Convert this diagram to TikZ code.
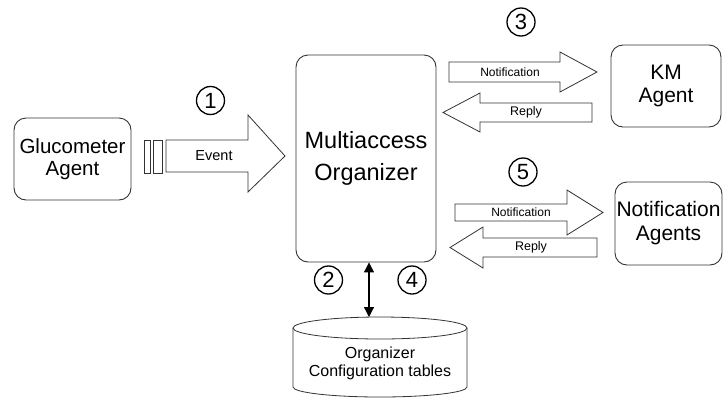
\documentclass[tikz,border=0pt]{standalone}
\usepackage{fontspec}
\setmainfont{Liberation Sans}
\usetikzlibrary{arrows.meta}

\tikzset{
  agentbox/.style={draw=black!80,line width=0.9pt,rounded corners=12pt,align=center,inner sep=0pt},
  blockarrow/.style={draw=black!80,line width=0.8pt,fill=white},
  num/.style={draw=black,line width=1.3pt,circle,minimum size=28pt,inner sep=0pt,font=\fontsize{22}{22}\selectfont},
  lbl/.style={inner sep=0pt,font=\fontsize{12}{12}\selectfont}
}

\begin{document}
\begin{tikzpicture}[x=1pt,y=-1pt]
\useasboundingbox (0,0) rectangle (723,397);

% agents and organizer
\node[agentbox,minimum width=117pt,minimum height=82pt,font=\fontsize{20.5}{22}\selectfont] (gluco) at (72.5,159) {Glucometer\\ Agent};
\node[agentbox,minimum width=140pt,minimum height=207pt,font=\fontsize{23.5}{32}\selectfont] (org) at (366,158.5) {Multiaccess\\ Organizer};
\node[agentbox,minimum width=110pt,minimum height=82pt,font=\fontsize{21}{23}\selectfont] (km) at (666,86) {KM\\ Agent};
\node[agentbox,minimum width=107pt,minimum height=83pt,font=\fontsize{21}{24}\selectfont] (notif) at (668.5,223.5) {Notification\\ Agents};

% event arrow
\draw[blockarrow] (144,140) rectangle (150,173);
\draw[blockarrow] (153,140) rectangle (162,173);
\draw[blockarrow] (166,140) -- (248,140) -- (248,115) -- (285,156) -- (248,192) -- (248,172) -- (166,172) -- cycle;
\node[lbl,font=\fontsize{14.5}{14.5}\selectfont] (event) at (214,156) {Event};

% KM agent arrows
\draw[blockarrow] (449,62) -- (560,62) -- (560,52) -- (597,72) -- (560,92) -- (560,82) -- (449,82) -- cycle;
\node[lbl] (kmnote) at (510,72) {Notification};
\draw[blockarrow] (592,103) -- (480,103) -- (480,93) -- (443,112.5) -- (480,132) -- (480,122) -- (592,122) -- cycle;
\node[lbl,font=\fontsize{12.5}{12.5}\selectfont] (kmreply) at (526,112.5) {Reply};

% notification agent arrows
\draw[blockarrow] (455,204) -- (567,204) -- (567,190) -- (603,212.5) -- (567,235) -- (567,221) -- (455,221) -- cycle;
\node[lbl] (ntnote) at (521,212.5) {Notification};
\draw[blockarrow] (597,238) -- (483,238) -- (483,227) -- (450,247.5) -- (483,268) -- (483,257) -- (597,257) -- cycle;
\node[lbl,font=\fontsize{12.5}{12.5}\selectfont] (ntreply) at (531,247.5) {Reply};

% configuration tables
\draw[black!80,line width=0.8pt] (380,328) ellipse (87pt and 11pt);
\draw[black!80,line width=0.8pt] (293,328) -- (293,387) arc[start angle=180,end angle=360,x radius=87pt,y radius=10pt] -- (467,328);
\node[inner sep=0pt,align=center,font=\fontsize{16}{18}\selectfont] (cfg) at (380,363) {Organizer\\ Configuration tables};
\coordinate (cfgtop) at (369,317);
\draw[{Triangle[width=10pt,length=10pt]}-{Triangle[width=10pt,length=10pt]},line width=1.2pt] (org.south -| cfgtop) -- (cfgtop);

% step numbers
\node[num] (n1) at (210.5,100.5) {1};
\node[num] (n2) at (328.5,280) {2};
\node[num] (n3) at (521,22) {3};
\node[num] (n4) at (412,280) {4};
\node[num] (n5) at (523,172) {5};
\end{tikzpicture}
\end{document}
